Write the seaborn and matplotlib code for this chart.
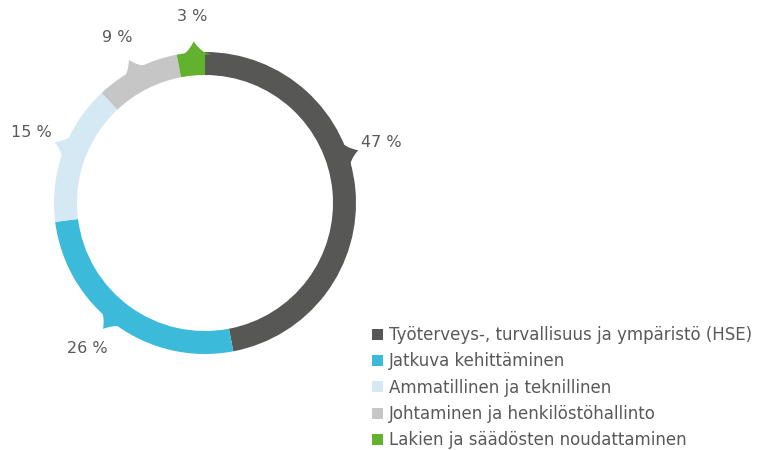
import numpy as np
import seaborn as sns
import matplotlib.pyplot as plt
from matplotlib.patches import Polygon

# data
categories = [
    "Työterveys-, turvallisuus ja ympäristö (HSE)",
    "Jatkuva kehittäminen",
    "Ammatillinen ja teknillinen",
    "Johtaminen ja henkilöstöhallinto",
    "Lakien ja säädösten noudattaminen",
]
shares = [47, 26, 15, 9, 3]
value_labels = ["47 %", "26 %", "15 %", "9 %", "3 %"]

# styles / layout
colors = ["#575756", "#3bbad9", "#d4e9f4", "#c6c6c6", "#62b22f"]
label_angles = [19, -129, 158, 118, 94]  # where the callouts point (deg)
text_color = "#595959"

sns.set_style("white")
plt.rcParams["font.family"] = ["DejaVu Sans"]

fig = plt.figure(figsize=(7.7, 4.5), dpi=100)
ax = fig.add_axes([0, 0, 1, 1])

cx, cy, R, width = 205, 247, 151, 23

wedges, _ = ax.pie(
    shares,
    colors=colors,
    startangle=90,
    counterclock=False,
    radius=R,
    center=(cx, cy),
    wedgeprops=dict(width=width, edgecolor="none"),
    frame=True,
)
ax.set_xlim(0, 770)
ax.set_ylim(0, 450)
ax.set_aspect("equal")
ax.axis("off")

# small concave spikes on the ring pointing at each label
for lab, ang, col in zip(value_labels, label_angles, colors):
    half = 7.0
    h = 13
    t = np.linspace(-1, 1, 61)
    a = np.deg2rad(ang + t * half)
    r = (R - 2) + h * (1 - np.abs(t)) ** 2.5
    pts = np.column_stack([cx + r * np.cos(a), cy + r * np.sin(a)])
    ax.add_patch(Polygon(pts, closed=True, facecolor=col, edgecolor="none"))

    a0 = np.deg2rad(ang)
    ax.text(cx + (R + 36) * np.cos(a0), cy + (R + 36) * np.sin(a0), lab,
            ha="center", va="center", fontsize=11.5, color=text_color)

leg = ax.legend(
    wedges, categories,
    loc="upper left", bbox_to_anchor=(372 / 770, 1 - 326 / 450),
    frameon=False, fontsize=12, handlelength=0.65, handleheight=0.65,
    handletextpad=0.35, labelspacing=0.5, borderpad=0, borderaxespad=0,
)
for txt in leg.get_texts():
    txt.set_color(text_color)

fig.savefig("out.png", dpi=100)
